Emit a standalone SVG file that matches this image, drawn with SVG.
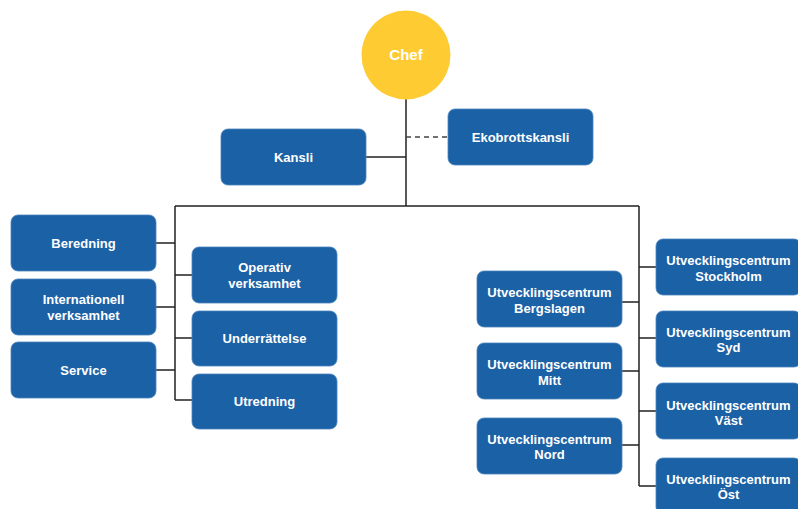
<svg xmlns="http://www.w3.org/2000/svg" width="798" height="509" viewBox="0 0 798 509">
<style>
.box{fill:#1b61a6;stroke:#4a83bd;stroke-width:0.8}
.t{font-family:"Liberation Sans",Arial,sans-serif;font-weight:bold;font-size:13px;fill:#ffffff;text-anchor:middle;dominant-baseline:central}
.ln{stroke:#222;stroke-width:1.5;fill:none}
.dash{stroke:#444;stroke-width:1.5;fill:none;stroke-dasharray:5 4}
</style>
<rect width="798" height="509" fill="#ffffff"/>
<g id="connectors">
<path class="ln" d="M406 99V206M366 157H406M175 206H639M175 206V400M156 243H175M156 307H175M156 370H175M175 275H192M175 338H192M175 400H192M639 206V486M622 302H639M622 371H639M622 445H639M639 267H656M639 338H656M639 411H656M639 486H656"/>
<path class="dash" d="M406 137H448"/>
</g>
<g id="chef"><circle cx="406" cy="55" r="44.5" fill="#fecb33"/><text class="t" x="406" y="54" style="font-size:15px">Chef</text></g>
<g id="kansli"><rect class="box" x="221" y="129" width="145" height="56" rx="7"/><text class="t" x="293.5" y="157">Kansli</text></g>
<g id="ekobrottskansli"><rect class="box" x="448" y="109" width="145" height="56" rx="7"/><text class="t" x="520.5" y="137">Ekobrottskansli</text></g>
<g id="beredning"><rect class="box" x="11" y="215" width="145" height="56" rx="7"/><text class="t" x="83.5" y="243">Beredning</text></g>
<g id="internationell"><rect class="box" x="11" y="279" width="145" height="56" rx="7"/><text class="t" x="83.5" y="299.5">Internationell</text><text class="t" x="83.5" y="315">verksamhet</text></g>
<g id="service"><rect class="box" x="11" y="342" width="145" height="56" rx="7"/><text class="t" x="83.5" y="370">Service</text></g>
<g id="operativ"><rect class="box" x="192" y="247" width="145" height="56" rx="7"/><text class="t" x="264.5" y="267">Operativ</text><text class="t" x="264.5" y="283">verksamhet</text></g>
<g id="underrattelse"><rect class="box" x="192" y="311" width="145" height="55" rx="7"/><text class="t" x="264.5" y="338.5">Underrättelse</text></g>
<g id="utredning"><rect class="box" x="192" y="374" width="145" height="55" rx="7"/><text class="t" x="264.5" y="401.5">Utredning</text></g>
<g id="bergslagen"><rect class="box" x="477" y="271" width="145" height="56" rx="7"/><text class="t" x="549.5" y="292">Utvecklingscentrum</text><text class="t" x="549.5" y="308">Bergslagen</text></g>
<g id="mitt"><rect class="box" x="477" y="343" width="145" height="56" rx="7"/><text class="t" x="549.5" y="364">Utvecklingscentrum</text><text class="t" x="549.5" y="380">Mitt</text></g>
<g id="nord"><rect class="box" x="477" y="418" width="145" height="56" rx="7"/><text class="t" x="549.5" y="439">Utvecklingscentrum</text><text class="t" x="549.5" y="454">Nord</text></g>
<g id="stockholm"><rect class="box" x="656" y="239" width="145" height="56" rx="7"/><text class="t" x="728.5" y="260">Utvecklingscentrum</text><text class="t" x="728.5" y="276">Stockholm</text></g>
<g id="syd"><rect class="box" x="656" y="311" width="145" height="56" rx="7"/><text class="t" x="728.5" y="332">Utvecklingscentrum</text><text class="t" x="728.5" y="347">Syd</text></g>
<g id="vast"><rect class="box" x="656" y="383" width="145" height="56" rx="7"/><text class="t" x="728.5" y="405">Utvecklingscentrum</text><text class="t" x="728.5" y="420">Väst</text></g>
<g id="ost"><rect class="box" x="656" y="458" width="145" height="56" rx="7"/><text class="t" x="728.5" y="479">Utvecklingscentrum</text><text class="t" x="728.5" y="494">Öst</text></g>
</svg>
